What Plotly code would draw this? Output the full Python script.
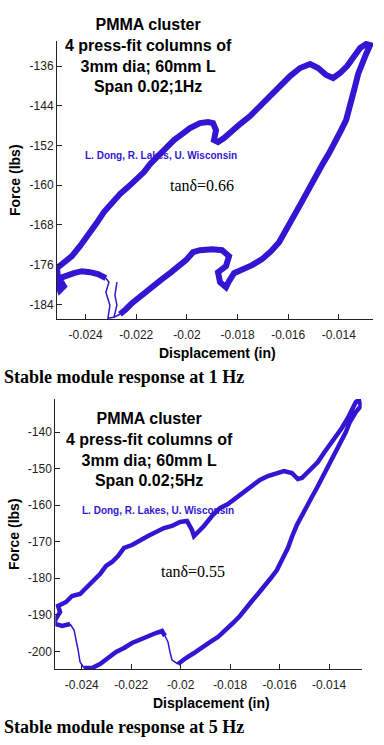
import plotly.graph_objects as go

N = None
# ---------------- data (displacement in inches, force in lbs) ----------------
# 1 Hz loop: main (noisy, wide) band and thin connecting strokes
top_band_disp = [
    -0.023198, -0.023514, -0.023830, -0.024146, -0.024463, -0.024779, -0.025016, -0.025095,
    -0.025016, -0.024858, -0.025095, -0.025134,
    -0.024858, -0.024542, -0.024225, -0.023909, -0.023593, -0.023277, -0.022960, -0.022644,
    -0.022328, -0.022012, -0.021695, -0.021458, -0.021142, -0.020826, -0.020510, -0.020193,
    -0.019877, -0.019482, -0.019166, -0.018968, -0.018850, -0.018929, -0.018771, -0.018533,
    -0.018296, -0.017901, -0.017505, -0.017110, -0.016715, -0.016320, -0.015925, -0.015529,
    -0.015134, -0.014818, -0.014501, -0.014224, -0.013949, -0.013671, -0.013394, -0.013157,
    -0.012921, -0.012763,
    -0.012921, -0.013079, -0.013237, -0.013355, -0.013474, -0.013593, -0.013712, -0.013949,
    -0.014146, -0.014382, -0.014620, -0.014857, -0.015055, -0.015252, -0.015490, -0.015726,
    -0.015925, -0.016122, -0.016359, -0.016675, -0.017031, -0.017426, -0.017822, -0.018138,
    -0.018336, -0.018455, -0.018692, -0.018771, -0.018455, -0.018336, -0.018613, -0.019008,
    -0.019482, -0.019758,
    -0.020035, -0.020351, -0.020668, -0.020984, -0.021300, -0.021616, -0.021893, -0.022170,
    -0.022407, -0.022644,
]
top_band_force = [
    -178.74, -177.93, -177.53, -177.33, -177.73, -178.13, -178.74, -179.95,
    -181.16, -180.35, -178.34, -176.72,
    -175.51, -174.30, -172.29, -170.27, -167.85, -165.43, -163.42, -161.80,
    -160.39, -158.98, -157.37, -155.76, -154.14, -152.53, -150.92, -149.71,
    -148.50, -147.49, -147.29, -147.49, -148.90, -150.92, -151.32, -150.52,
    -149.31, -147.69, -146.08, -144.06, -142.05, -140.03, -138.02, -136.40,
    -135.60, -136.40, -137.81, -138.42, -137.41, -136.00, -133.98, -132.37,
    -131.56, -131.77,
    -133.58, -135.60, -137.61, -140.03, -142.45, -144.87, -146.89, -149.31,
    -151.52, -153.54, -155.56, -157.57, -159.39, -161.40, -163.62, -165.84,
    -167.85, -169.67, -171.48, -173.30, -174.91, -176.12, -176.92, -177.73,
    -179.35, -180.55, -179.55, -177.53, -176.32, -174.30, -173.09, -172.89,
    -173.09, -173.50,
    -175.11, -176.52, -177.73, -178.94, -180.15, -181.36, -182.57, -183.78,
    -184.99, -186.00,
]
top_thin_disp = [-0.022644, -0.022881, -0.023119, -0.023040, -0.023198, -0.023079, -0.023198,
                 N, -0.022763, -0.022842, -0.022763, -0.022881]
top_thin_force = [-186.00, -186.60, -186.80, -184.18, -181.56, -179.55, -178.74,
                  N, -179.55, -182.17, -184.18, -186.60]

# 5 Hz loop
bot_band_disp = [
    -0.025079, -0.024877, -0.024958, -0.024634, -0.024392, -0.024069, -0.023826, -0.023584,
    -0.023261, -0.023018, -0.022776, -0.022533, -0.022291, -0.021968, -0.021644, -0.021321,
    -0.020998, -0.020675, -0.020352, -0.020028, -0.019746, -0.019544, -0.019463, -0.019301,
    -0.019059, -0.018735, -0.018412, -0.018089, -0.017766, -0.017443, -0.017119, -0.016796,
    -0.016473, -0.016150, -0.015826, -0.015503, -0.015261, -0.015099, -0.014776, -0.014453,
    -0.014210, -0.013968, -0.013725, -0.013483, -0.013240, -0.013079, -0.012917, -0.012796,
    -0.012715,
    -0.012917, -0.013160, -0.013321, -0.013483, -0.013685, -0.013887, -0.014089, -0.014291,
    -0.014493, -0.014695, -0.014897, -0.015099, -0.015301, -0.015503, -0.015665, -0.015907,
    -0.016109, -0.016352, -0.016594, -0.016877, -0.017119, -0.017362, -0.017604, -0.017887,
    -0.018170, -0.018493, -0.018816, -0.019140, -0.019463, -0.019786, -0.020109,
    N,
    -0.020634, -0.020756, -0.020998, -0.021321, -0.021644, -0.021968, -0.022291, -0.022614,
    -0.022937, -0.023261, -0.023584, -0.023907,
    N,
    -0.024473, -0.024796, -0.025079, -0.025079,
]
bot_band_force = [
    -191.43, -189.24, -187.59, -186.50, -184.85, -184.30, -182.66, -181.01,
    -178.82, -176.63, -175.53, -173.89, -171.70, -170.88, -169.51, -168.41,
    -167.31, -166.22, -165.67, -164.58, -164.30, -166.77, -168.41, -167.31,
    -165.67, -162.93, -160.74, -159.64, -158.00, -156.36, -154.71, -153.07,
    -151.97, -151.15, -150.60, -151.15, -152.79, -152.52, -150.33, -148.14,
    -145.67, -143.48, -141.01, -138.82, -136.08, -133.89, -131.70, -131.15,
    -132.79,
    -134.44, -137.18, -139.92, -142.11, -144.30, -147.04, -149.78, -152.52,
    -155.26, -157.73, -160.19, -162.66, -165.40, -168.68, -171.70, -174.99,
    -177.73, -179.92, -182.11, -184.30, -186.22, -188.41, -190.33, -192.25,
    -194.17, -196.09, -197.46, -199.10, -200.47, -201.84, -203.48,
    N,
    -195.81, -194.44, -194.99, -195.81, -196.63, -197.73, -199.10, -200.19,
    -201.84, -203.48, -204.58, -204.58,
    N,
    -192.52, -193.07, -192.52, -191.43,
]
bot_thin_disp = [-0.020109, -0.020352, -0.020432, -0.020513, -0.020634,
                 N, -0.023907, -0.024069, -0.024149, -0.024230, -0.024311, -0.024473]
bot_thin_force = [-203.48, -202.39, -200.19, -197.46, -195.81,
                  N, -204.58, -202.93, -199.64, -196.91, -194.17, -192.52]

x_tick_vals = [-0.024, -0.022, -0.020, -0.018, -0.016, -0.014]
x_tick_text = ["-0.024", "-0.022", "-0.02", "-0.018", "-0.016", "-0.014"]
top_y_ticks = [-184, -176, -168, -160, -152, -144, -136]
bot_y_ticks = [-200, -190, -180, -170, -160, -150, -140]

top_title = "PMMA cluster<br>4 press-fit columns of<br>3mm dia; 60mm L<br>Span 0.02;1Hz"
bot_title = "PMMA cluster<br>4 press-fit columns of<br>3mm dia; 60mm L<br>Span 0.02;5Hz"
credit = "L. Dong, R. Lakes, U. Wisconsin"
top_tan = "tanδ=0.66"
bot_tan = "tanδ=0.55"
top_caption = "Stable module response at 1 Hz"
bot_caption = "Stable module response at 5 Hz"
x_title = "Displacement (in)"
y_title = "Force (lbs)"

# ---------------- figure ----------------
W, H = 384, 745
LINE = "rgb(52,22,210)"
SANS = "Liberation Sans, Arial, sans-serif"
SERIF = "Liberation Serif, Times New Roman, serif"
AX = "#222222"


def fx(p):
    return p / W


def fy(p):
    return 1 - p / H


fig = go.Figure()
for xs, ys, w, xa, ya in [
    (top_band_disp, top_band_force, 6, "x", "y"),
    (top_thin_disp, top_thin_force, 1.5, "x", "y"),
    (bot_band_disp, bot_band_force, 4.5, "x2", "y2"),
    (bot_thin_disp, bot_thin_force, 1.5, "x2", "y2"),
]:
    fig.add_trace(go.Scatter(x=xs, y=ys, mode="lines", connectgaps=False,
                             line=dict(color=LINE, width=w), xaxis=xa, yaxis=ya,
                             showlegend=False, hoverinfo="skip"))

axis_common = dict(showline=True, linecolor=AX, linewidth=1, showgrid=False,
                   zeroline=False, ticks="inside", ticklen=5, tickcolor=AX,
                   automargin=False,
                   tickfont=dict(family=SANS, size=12, color=AX))

fig.update_layout(
    width=W, height=H, margin=dict(l=0, r=0, t=0, b=0, autoexpand=False),
    paper_bgcolor="white", plot_bgcolor="white",
    xaxis=dict(domain=[fx(57), fx(373)], range=[-0.02513, -0.01265], anchor="y",
               tickvals=x_tick_vals, ticktext=x_tick_text, ticklabelstandoff=5,
               **axis_common),
    yaxis=dict(domain=[fy(319), fy(41)], range=[-186.96, -130.96], anchor="x",
               tickvals=top_y_ticks, ticktext=[str(v) for v in top_y_ticks], **axis_common),
    xaxis2=dict(domain=[fx(55.3), fx(361.7)], range=[-0.02507, -0.01268], anchor="y2",
                tickvals=x_tick_vals, ticktext=x_tick_text, ticklabelstandoff=5,
                **axis_common),
    yaxis2=dict(domain=[fy(669), fy(399)], range=[-204.85, -130.88], anchor="x2",
                tickvals=bot_y_ticks, ticktext=[str(v) for v in bot_y_ticks], **axis_common),
)


def ann(text, x, y, size, family=SANS, color="black", xanchor="center", textangle=0):
    fig.add_annotation(text=text, x=fx(x), y=fy(y), xref="paper", yref="paper",
                       showarrow=False, xanchor=xanchor, yanchor="middle",
                       textangle=textangle,
                       font=dict(family=family, size=size, color=color))


ann("<b>" + top_title + "</b>", 148, 55, 16)
ann("<b>" + bot_title + "</b>", 149, 449, 16)
ann("<b>" + credit + "</b>", 160.5, 155.7, 10, color=LINE)
ann("<b>" + credit + "</b>", 158, 510, 10, color=LINE)
ann(top_tan, 202, 186, 16, family=SERIF)
ann(bot_tan, 193, 571, 16, family=SERIF)
ann("<b>" + x_title + "</b>", 217, 353, 14)
ann("<b>" + x_title + "</b>", 211, 703, 14)
ann("<b>" + y_title + "</b>", 15, 180, 14, textangle=-90)
ann("<b>" + y_title + "</b>", 14, 534, 14, textangle=-90)
ann("<b>" + top_caption + "</b>", 2, 377, 18, family=SERIF, xanchor="left")
ann("<b>" + bot_caption + "</b>", 2, 727, 18, family=SERIF, xanchor="left")

fig.write_html("out.html", config={"displayModeBar": False},
               post_script="document.body.style.margin='0';document.body.style.padding='0';")
